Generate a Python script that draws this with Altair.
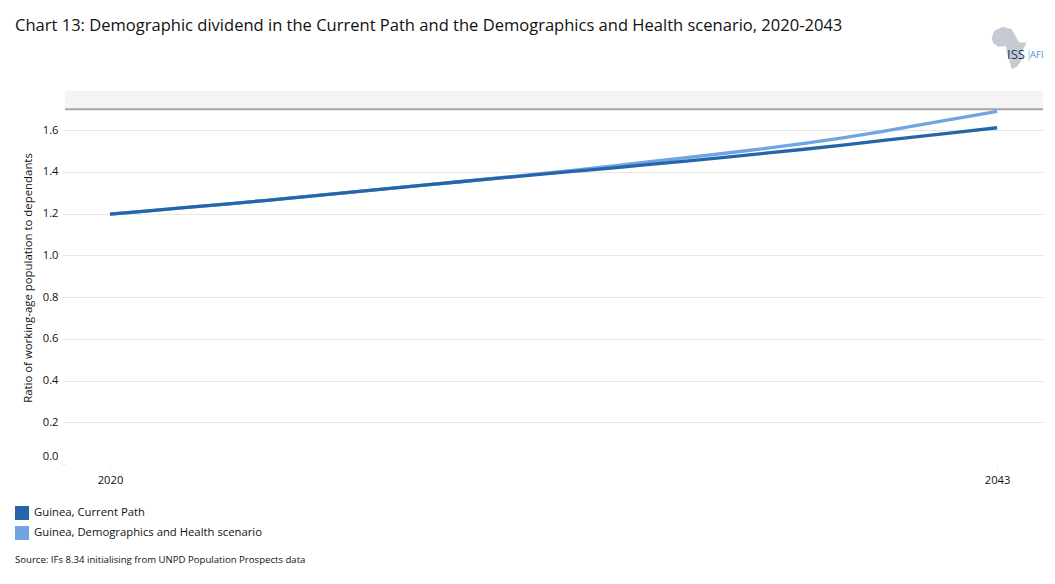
import altair as alt
import pandas as pd

years = list(range(2020, 2044))
current_path = [1.197, 1.213, 1.229, 1.245, 1.262, 1.280, 1.298, 1.316, 1.334, 1.351, 1.368, 1.385,
                1.402, 1.418, 1.435, 1.452, 1.470, 1.489, 1.508, 1.528, 1.549, 1.570, 1.590, 1.611]
demo_health = [1.197, 1.213, 1.229, 1.245, 1.262, 1.280, 1.298, 1.316, 1.334, 1.351, 1.369, 1.388,
               1.407, 1.427, 1.448, 1.469, 1.490, 1.512, 1.536, 1.562, 1.592, 1.625, 1.657, 1.689]
series_names = ["Guinea, Current Path", "Guinea, Demographics and Health scenario"]
series_colors = ["#2566ab", "#6fa5e0"]
y_ticks = [0.0, 0.2, 0.4, 0.6, 0.8, 1.0, 1.2, 1.4, 1.6]
x_ticks = [2020, 2043]

TITLE = "Chart 13: Demographic dividend in the Current Path and the Demographics and Health scenario, 2020-2043"
SOURCE = "Source: IFs 8.34 initialising from UNPD Population Prospects data"
Y_TITLE = "Ratio of working-age population to dependants"
FONT = "Open Sans"
AFRICA = ("M-.824,-.462L-.714,-.824L-.286,-1.014L.129,-.89L.286,-.619L.476,-.271L.843,-.252L.605,.176"
          "L.652,.49L.381,.89L.129,1L.014,.571L-.11,.176L-.143,-.095L-.51,-.062L-.748,-.224Z")

df = pd.DataFrame({
    "year": years * 2,
    "value": current_path + demo_health,
    "series": [series_names[0]] * len(years) + [series_names[1]] * len(years),
})

x_scale = alt.Scale(domain=[2018.833, 2044.19], nice=False, zero=False)
y_scale = alt.Scale(domain=[0, 1.787], nice=False, zero=False)
color_scale = alt.Scale(domain=series_names, range=series_colors)

x_axis = alt.Axis(
    values=x_ticks, format="d", title=None, grid=False, domain=False, tickColor="#eeeeee",
    tickSize=4, labelFont=FONT, labelFontSize=11.2, labelColor="#111111", labelPadding=6)

y_axis = alt.Axis(
    values=y_ticks, format=".1f", title=Y_TITLE, titleFont=FONT, titleFontSize=11.4,
    titleFontWeight="normal", titleColor="#111111", titlePadding=9,
    grid=True, domain=False, tickSize=3, tickColor="#e6e6e6",
    gridColor={"condition": {"test": "datum.value === 0", "value": "#ffffff"}, "value": "#e6e6e6"},
    labelFont=FONT, labelFontSize=11.2, labelColor="#111111", labelPadding=4,
    labelOffset={"condition": {"test": "datum.value === 0", "value": -8}, "value": 0})

x_enc = alt.X("year:Q", scale=x_scale, axis=x_axis)
y_enc = alt.Y("value:Q", scale=y_scale, axis=y_axis)

band = alt.Chart(pd.DataFrame({"value": [1.7], "b": [1.787]})).mark_rect(color="#f4f4f4").encode(
    y=y_enc, y2="b:Q", x=alt.value(0), x2=alt.value(978))
top_rule = alt.Chart(pd.DataFrame({"value": [1.7]})).mark_rule(color="#a6a6a6", strokeWidth=2).encode(
    y=y_enc, x=alt.value(0), x2=alt.value(978))

# The darker Current Path is drawn on top
lines = alt.layer(
    alt.Chart(df[df.series == series_names[1]]).mark_line(strokeWidth=3.3, color=series_colors[1]).encode(x=x_enc, y=y_enc),
    alt.Chart(df[df.series == series_names[0]]).mark_line(strokeWidth=3.3, color=series_colors[0]).encode(x=x_enc, y=y_enc),
)

legend_src = alt.Chart(pd.DataFrame({"series": series_names, "year": [2020, 2020], "value": [0.0, 0.0]})).mark_square(
    size=0, filled=True, opacity=1).encode(
    x=x_enc,
    y=y_enc,
    fill=alt.Fill("series:N", scale=color_scale, legend=alt.Legend(
        orient="none", legendX=-50, legendY=415, title=None, symbolType="square", symbolSize=196,
        symbolStrokeWidth=0, symbolOpacity=1, labelFont=FONT, labelFontSize=11.3, labelColor="#111111",
        rowPadding=6, labelOffset=5, symbolOffset=0, padding=0, labelLimit=400)),
)


def txt(s, x, y, size, color, font=FONT, align="left"):
    return alt.Chart(pd.DataFrame({"t": [s]})).mark_text(
        text=s, fontSize=size, color=color, font=font, align=align, baseline="alphabetic").encode(
        x=alt.value(x), y=alt.value(y))


title = txt(TITLE, -50, -60.5, 16.55, "#111111")
source = txt(SOURCE, -50, 472, 9.6, "#111111")
africa = alt.Chart(pd.DataFrame({"a": [1]})).mark_point(
    shape=AFRICA, size=1764, filled=True, color="#c5cad3", opacity=1).encode(
    x=alt.value(944), y=alt.value(-43))
iss = txt("ISS", 942, -32, 13, "#163a63")
sep = txt("|", 961, -33, 11, "#9cc3e4")
afi = txt("AFI", 965, -33, 9.5, "#4f94cc")

chart = alt.layer(band, top_rule, legend_src, lines, title, source, africa, iss, sep, afi).properties(
    width=978, height=373,
    padding={"left": 57, "top": 83, "right": 4, "bottom": 108},
    autosize=alt.AutoSizeParams(type="none"),
    background="white",
).configure_view(stroke=None)

chart.save("out.html", embed_options={"renderer": "svg", "actions": False})
